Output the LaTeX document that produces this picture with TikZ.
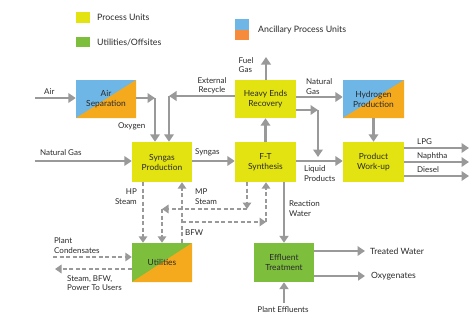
\documentclass[tikz,border=0pt]{standalone}
\usepackage{fontspec}
\setmainfont{Lato}
\usetikzlibrary{arrows.meta}
\definecolor{pyellow}{HTML}{E3E312}
\definecolor{pgreen}{HTML}{7DBE3C}
\definecolor{pblue}{HTML}{6DB6E6}
\definecolor{porange}{HTML}{F5AA1E}
\definecolor{lorange}{HTML}{F68B3C}
\definecolor{agray}{HTML}{999999}
\definecolor{tgray}{HTML}{2A2A2A}
\tikzset{
  unit/.style={minimum width=60pt, minimum height=39pt, inner sep=0pt, align=center,
    font=\fontsize{8.4}{10}\selectfont, text=tgray},
  split/.style n args={2}{path picture={
    \fill[#1] (path picture bounding box.south west) rectangle (path picture bounding box.north east);
    \fill[#2] (path picture bounding box.south west) -- (path picture bounding box.north east)
      -- (path picture bounding box.south east) -- cycle;}},
  arr/.style={draw=agray, line width=2.8pt, -{Triangle[length=7.5pt,width=9.5pt]}, agray},
  thinarr/.style={draw=agray, line width=2.1pt, -{Triangle[length=7pt,width=9pt]}, agray},
  darr/.style={draw=agray, line width=1.9pt, dash pattern=on 4pt off 2.5pt,
    -{Triangle[length=6.5pt,width=8.5pt]}, agray},
  lbl/.style={font=\fontsize{8}{9.5}\selectfont, text=tgray, inner sep=0pt, align=left},
  leg/.style={font=\fontsize{8.8}{10}\selectfont, text=tgray, inner sep=0pt, anchor=west},
}
\begin{document}
\begin{tikzpicture}[x=1pt,y=-1pt]
\useasboundingbox[fill=white] (0,0) rectangle (474,322);

% legend
\node[fill=pyellow, minimum width=14pt, minimum height=11pt, inner sep=0pt] (legy) at (83,17.5) {};
\node[leg] (legyt) at (97,17.5) {Process Units};
\node[fill=pgreen, minimum width=14pt, minimum height=10pt, inner sep=0pt] (legg) at (83,42) {};
\node[leg] (leggt) at (97,42) {Utilities/Offsites};
\node[minimum width=14pt, minimum height=21pt, inner sep=0pt,
  path picture={\fill[pblue] (path picture bounding box.north west) rectangle (path picture bounding box.east);
  \fill[lorange] (path picture bounding box.west) rectangle (path picture bounding box.south east);}] (lega) at (242,29.5) {};
\node[leg] (legat) at (258,30) {Ancillary Process Units};

% units
\node[unit, split={pblue}{porange}, minimum height=38pt] (asu) at (106,99) {Air\\Separation};
\node[unit, fill=pyellow, minimum width=61pt, minimum height=38pt] (her) at (265.5,99) {Heavy Ends\\Recovery};
\node[unit, split={pblue}{porange}, minimum width=61pt, minimum height=38pt] (h2) at (373.5,99) {Hydrogen\\Production};
\node[unit, fill=pyellow, minimum height=40pt] (syn) at (162,162) {Syngas\\Production};
\node[unit, fill=pyellow, minimum width=61pt, minimum height=40pt] (ft) at (265.5,162) {F-T\\Synthesis};
\node[unit, fill=pyellow, minimum width=61pt, minimum height=40pt] (pwu) at (373.5,162) {Product\\Work-up};
\node[unit, split={pgreen}{porange}] (util) at (162,262.5) {Utilities};
\node[unit, fill=pgreen] (eff) at (284,262.5) {Effluent\\Treatment};

% coordinates
\coordinate (airin) at (35,98);
\coordinate (c1) at (155,98);
\coordinate (c2) at (169,96);
\coordinate (fuel) at (266,57);
\coordinate (c3) at (318,110);
\coordinate (c4) at (318,157);
\coordinate (ngin) at (35,161);
\coordinate (lpg) at (469,148);
\coordinate (nap) at (469,162);
\coordinate (die) at (469,176);
\coordinate (c5) at (247,209);
\coordinate (c6) at (162,209);
\coordinate (c7) at (182,222);
\coordinate (c8) at (266,222);
\coordinate (tw) at (365,251);
\coordinate (oxy) at (365,276);
\coordinate (pe) at (284,303);
\coordinate (pcin) at (53,257);
\coordinate (sout) at (55,269);

% solid connectors
\draw[arr] (airin) -- (asu.west |- airin);
\draw[arr] (asu.east |- c1) -- (c1);
\draw[arr] (c1) -- (c1 |- syn.north);
\draw[arr] (her.west |- c2) -- (c2);
\draw[arr] (c2) -- (c2 |- syn.north);
\draw[arr] (her.north -| fuel) -- (fuel);
\draw[arr] (her.east |- 0,97) -- (h2.west |- 0,97);
\draw[arr] (her.east |- c3) -- (c3);
\draw[arr] (c3) -- (c4);
\draw[arr] (h2.south) -- (pwu.north);
\draw[arr] (ft.east |- 0,161) -- (pwu.west |- 0,161);
\draw[arr] (ft.north) -- (her.south);
\draw[arr] (syn.east |- 0,161) -- (ft.west |- 0,161);
\draw[arr] (ngin) -- (syn.west |- ngin);
\draw[arr] (pwu.east |- lpg) -- (lpg);
\draw[arr] (pwu.east |- nap) -- (nap);
\draw[arr] (pwu.east |- die) -- (die);
\draw[thinarr] (ft.south -| eff.north) -- (eff.north);
\draw[arr] (eff.east |- tw) -- (tw);
\draw[thinarr] (eff.east |- oxy) -- (oxy);
\draw[thinarr] (pe) -- (eff.south);

% dashed connectors
\draw[darr] (syn.south -| 143,0) -- (util.north -| 143,0);
\draw[darr] (ft.south -| c5) -- (c5);
\draw[darr] (c5) -- (c6);
\draw[darr] (c6) -- (c6 |- util.north);
\draw[darr] (util.north -| c7) -- (c7 |- syn.south);
\draw[darr] (c7) -- (c8);
\draw[darr] (c8) -- (c8 |- ft.south);
\draw[darr] (pcin) -- (util.west |- pcin);
\draw[darr] (util.west |- sout) -- (sout);

% labels
\node[lbl, anchor=west] (lair) at (44,92) {Air};
\node[lbl, anchor=center, align=center] (lext) at (212,85.5) {External\\Recycle};
\node[lbl, anchor=west] (loxy) at (118,126) {Oxygen};
\node[lbl, anchor=west] (lfuel) at (238.5,65) {Fuel\\Gas};
\node[lbl, anchor=west] (lng2) at (306,86.5) {Natural\\Gas};
\node[lbl, anchor=west] (lng) at (40,153) {Natural Gas};
\node[lbl, anchor=west] (lsyn) at (195,152.5) {Syngas};
\node[lbl, anchor=west] (lliq) at (304,173.5) {Liquid\\Products};
\node[lbl, anchor=west] (llpg) at (417,141.5) {LPG};
\node[lbl, anchor=west] (lnap) at (417,156) {Naphtha};
\node[lbl, anchor=west] (ldie) at (417,170) {Diesel};
\node[lbl, anchor=east, align=right] (lhp) at (137,196.5) {HP\\Steam};
\node[lbl, anchor=west] (lmp) at (195,196.5) {MP\\Steam};
\node[lbl, anchor=west] (lbfw) at (185,233) {BFW};
\node[lbl, anchor=west] (lrw) at (289,208.5) {Reaction\\Water};
\node[lbl, anchor=west, font=\fontsize{8.6}{10}\selectfont] (ltw) at (370,251) {Treated Water};
\node[lbl, anchor=west, font=\fontsize{8.6}{10}\selectfont] (lox) at (371,276) {Oxygenates};
\node[lbl, anchor=center] (lpe) at (283,310) {Plant Effluents};
\node[lbl, anchor=west] (lpc) at (54,245.5) {Plant\\Condensates};
\node[lbl, anchor=west] (lst) at (67,283) {Steam, BFW,\\Power To Users};
\end{tikzpicture}
\end{document}
